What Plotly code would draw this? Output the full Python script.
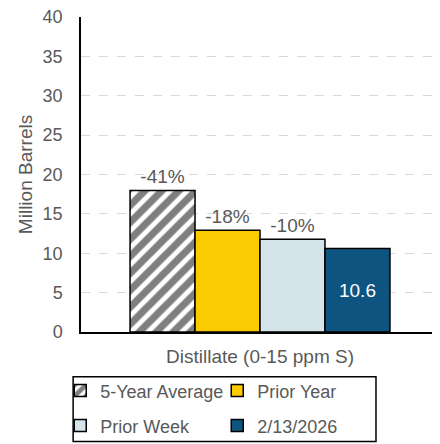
import plotly.graph_objects as go

category = ["Distillate (0-15 ppm S)"]
series_names = ["5-Year Average", "Prior Year", "Prior Week", "2/13/2026"]
series_values = [17.97, 12.93, 11.78, 10.6]
series_labels = ["-41%", "-18%", "-10%", "10.6"]
colors = ["#FFFFFF", "#F9CB00", "#D5E3EB", "#0E5480"]
y_ticks = [0, 5, 10, 15, 20, 25, 30, 35, 40]

GREY = "#595959"
FONT = "Liberation Sans, Arial, sans-serif"

fig = go.Figure()
for i, (name, val, lab, col) in enumerate(zip(series_names, series_values, series_labels, colors)):
    inside = i == 3
    marker = dict(color=col, line=dict(color="#000000", width=1.5))
    if i == 0:
        marker["pattern"] = dict(shape="/", fgcolor="#000000", bgcolor="#FFFFFF", size=12, solidity=0.6)
    fig.add_trace(go.Bar(
        x=category, y=[val], name=name, marker=marker,
        text=[lab], textposition="inside" if inside else "outside",
        insidetextanchor="middle",
        textfont=dict(family=FONT, size=19, color="#FFFFFF" if inside else GREY),
        cliponaxis=False,
        legend="legend" if i < 2 else "legend2",
    ))

legend_common = dict(
    orientation="h", xanchor="left", yanchor="top",
    bgcolor="rgba(0,0,0,0)", borderwidth=0,
    entrywidth=112, entrywidthmode="pixels",
    font=dict(family=FONT, size=18, color=GREY),
    itemwidth=30,
)

fig.update_layout(
    width=432, height=436,
    margin=dict(l=73, r=1, t=9, b=112, autoexpand=False),
    paper_bgcolor="white", plot_bgcolor="white",
    barmode="group", bargap=0.274, bargroupgap=0,
    font=dict(family=FONT, size=19, color=GREY),
    showlegend=True,
    legend=dict(x=-0.058, y=-0.128, **legend_common),
    legend2=dict(x=-0.058, y=-0.239, **legend_common),
    shapes=[dict(type="rect", xref="paper", yref="paper",
                 x0=-0.022, x1=0.824, y0=-0.348, y1=-0.142,
                 line=dict(color="#000000", width=1.5), fillcolor="rgba(0,0,0,0)")],
)
fig.update_yaxes(
    range=[0, 40], tickmode="array", tickvals=y_ticks, showgrid=True,
    gridcolor="#D9D9D9", griddash="dash", gridwidth=1,
    showline=True, linecolor="#000000", linewidth=1.5, zeroline=False,
    ticks="", tickfont=dict(size=18, color=GREY), ticklabelstandoff=13,
    ticklabeloverflow="allow",
    automargin=True,
    title=dict(text="Million Barrels", font=dict(size=19, color=GREY), standoff=5),
)
fig.update_xaxes(
    showline=True, linecolor="#000000", linewidth=1.5, ticks="",
    tickfont=dict(size=19, color=GREY), ticklabelstandoff=6, automargin=False,
)

fig.write_html("out.html")
